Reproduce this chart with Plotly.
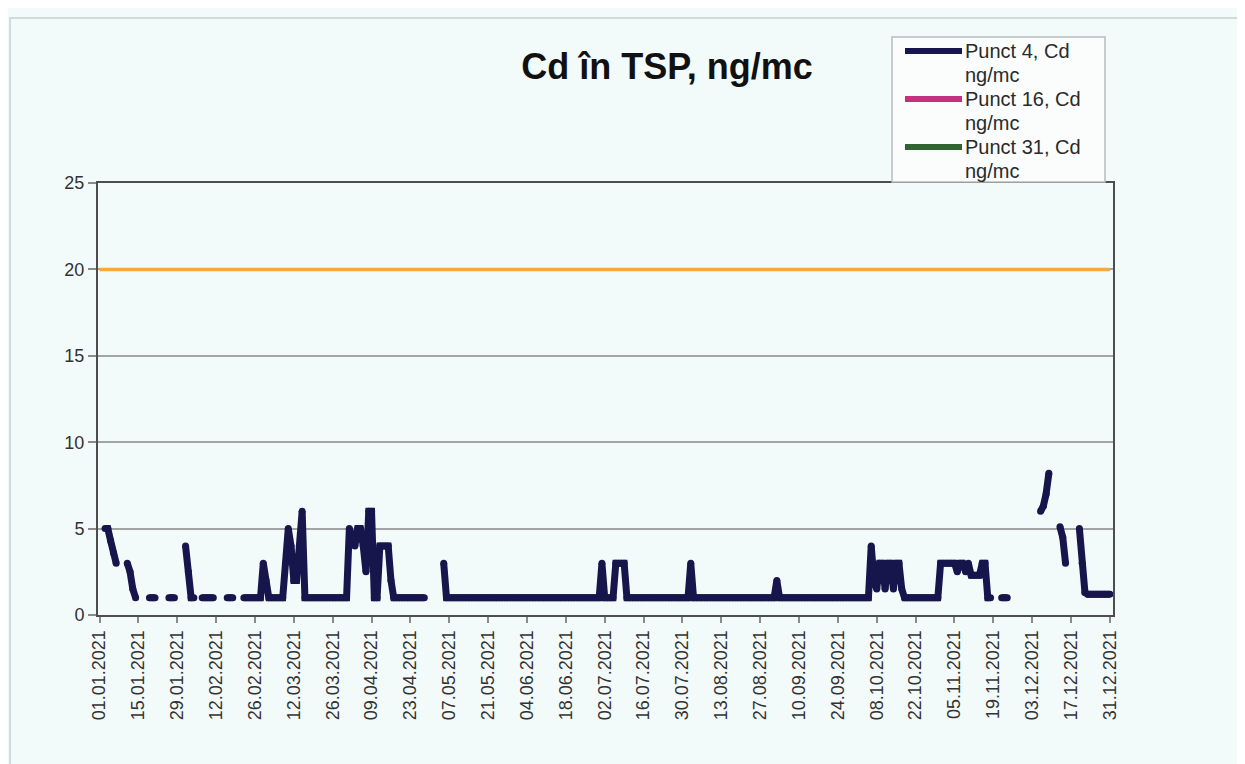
from datetime import datetime, timedelta
import plotly.graph_objects as go

# ---------------- data ----------------
TITLE = "Cd în TSP, ng/mc"

tick_labels = ["01.01.2021", "15.01.2021", "29.01.2021", "12.02.2021", "26.02.2021",
               "12.03.2021", "26.03.2021", "09.04.2021", "23.04.2021", "07.05.2021",
               "21.05.2021", "04.06.2021", "18.06.2021", "02.07.2021", "16.07.2021",
               "30.07.2021", "13.08.2021", "27.08.2021", "10.09.2021", "24.09.2021",
               "08.10.2021", "22.10.2021", "05.11.2021", "19.11.2021", "03.12.2021",
               "17.12.2021", "31.12.2021"]

series_names = ["Punct 4, Cd ng/mc", "Punct 16, Cd ng/mc", "Punct 31, Cd ng/mc"]

# Punct 4: measured runs (start date, daily values); days not listed are missing
p4_seg_01 = ("03.01.2021", [5, 5, 4.3, 3.6, 3])
p4_seg_02 = ("11.01.2021", [3, 2.5, 1.5, 1])
p4_seg_03 = ("19.01.2021", [1, 1, 1])
p4_seg_04 = ("26.01.2021", [1, 1, 1])
p4_seg_05 = ("01.02.2021", [4, 2.5, 1, 1])
p4_seg_06 = ("07.02.2021", [1, 1, 1, 1, 1])
p4_seg_07 = ("16.02.2021", [1, 1, 1])
p4_seg_08 = ("22.02.2021", [1, 1, 1, 1, 1, 1, 1, 3, 2, 1, 1, 1, 1, 1,
                            1, 3, 5, 4, 2, 2, 4, 6, 1,
                            1, 1, 1, 1, 1, 1, 1, 1, 1, 1, 1, 1, 1, 1,
                            1, 5, 4.5, 4, 5, 5, 4, 2.5, 6, 6, 1, 1, 4, 4, 4, 4, 2, 1,
                            1, 1, 1, 1, 1, 1, 1, 1, 1, 1, 1])
p4_seg_09 = ("05.05.2021", [3, 1,
                            1, 1, 1, 1, 1, 1, 1, 1, 1, 1, 1, 1, 1, 1, 1, 1, 1, 1,
                            1, 1, 1, 1, 1, 1, 1, 1, 1, 1, 1, 1, 1, 1, 1, 1, 1, 1,
                            1, 1, 1, 1, 1, 1, 1, 1, 1, 1, 1, 1, 1, 1, 1, 1, 1, 1,
                            1, 3, 1, 1, 1, 1, 3, 3, 3, 3, 1,
                            1, 1, 1, 1, 1, 1, 1, 1, 1, 1, 1, 1, 1, 1, 1, 1, 1, 1,
                            1, 1, 1, 1,
                            3,
                            1, 1, 1, 1, 1, 1, 1, 1, 1, 1, 1, 1, 1, 1, 1,
                            1, 1, 1, 1, 1, 1, 1, 1, 1, 1, 1, 1, 1, 1, 1,
                            2,
                            1, 1, 1, 1, 1, 1, 1, 1, 1, 1, 1, 1, 1, 1, 1, 1, 1,
                            1, 1, 1, 1, 1, 1, 1, 1, 1, 1, 1, 1, 1, 1, 1, 1,
                            4, 2, 1.5, 3, 3, 1.5, 3, 3, 1.5, 3, 3, 1.5, 1,
                            1, 1, 1, 1, 1, 1, 1, 1, 1, 1, 1, 1,
                            3, 3, 3, 3, 3, 3, 2.5, 3, 3, 2.5, 3, 2.3, 2.3, 2.3, 2.3,
                            3, 3, 1, 1])
p4_seg_10 = ("22.11.2021", [1, 1, 1])
p4_seg_11 = ("06.12.2021", [6, 6.3, 7, 8.2])
p4_seg_12 = ("13.12.2021", [5.1, 4.5, 3])
p4_seg_13 = ("20.12.2021", [5, 3, 1.3, 1.2, 1.2, 1.2, 1.2, 1.2, 1.2, 1.2, 1.2, 1.2])

p4_segments = [p4_seg_01, p4_seg_02, p4_seg_03, p4_seg_04, p4_seg_05, p4_seg_06,
               p4_seg_07, p4_seg_08, p4_seg_09, p4_seg_10, p4_seg_11, p4_seg_12,
               p4_seg_13]

# Punct 16 and Punct 31: no values drawn in the chart
p16_values = []
p31_values = []

# limit value line
limit_dates = ["01.01.2021", "31.12.2021"]
limit_values = [20, 20]

# ---------------- build ----------------
def d(s):
    return datetime.strptime(s, "%d.%m.%Y")

year_start = d("01.01.2021")
all_days = [year_start + timedelta(days=i) for i in range(365)]
p4_values = [None] * 365
for start, vals in p4_segments:
    i0 = (d(start) - year_start).days
    for k, v in enumerate(vals):
        p4_values[i0 + k] = v

FONT = "Liberation Sans, Arial, sans-serif"
BG = "#f3fafa"
LINE_W = 7
NAVY = "#16164c"

fig = go.Figure()
fig.add_trace(go.Scatter(x=all_days, y=p4_values, mode="lines+markers", name=series_names[0],
                         line=dict(color=NAVY, width=LINE_W), connectgaps=False,
                         marker=dict(color=NAVY, size=LINE_W, line=dict(width=0)),
                         showlegend=False))
fig.add_trace(go.Scatter(x=all_days[:len(p16_values)], y=p16_values, mode="lines",
                         name=series_names[1], line=dict(color="#c4317f", width=LINE_W),
                         showlegend=False))
fig.add_trace(go.Scatter(x=all_days[:len(p31_values)], y=p31_values, mode="lines",
                         name=series_names[2], line=dict(color="#2f632f", width=LINE_W),
                         showlegend=False))
fig.add_trace(go.Scatter(x=[d(s) for s in limit_dates], y=limit_values, mode="lines",
                         name="Valoare limită", line=dict(color="#f3ab3e", width=3.5),
                         showlegend=False))

# geometry (page pixels; the page body has an 8px margin)
OFF = 8
W, H = 1245, 764
PL, PR, PT, PB = 98, 1113, 183, 615          # plot area on the page
L, T = PL - OFF, PT - OFF
R, B = OFF + W - PR, OFF + H - PB
PW, PH = PR - PL, PB - PT
px = lambda x: (x - PL) / PW
py = lambda y: (PB - y) / PH

shapes = []
annotations = []
# outer chart frame
shapes.append(dict(type="rect", xref="paper", yref="paper", x0=px(10), x1=px(1260),
                   y0=py(780), y1=py(18), line=dict(color="#d3dada", width=2),
                   fillcolor="rgba(0,0,0,0)", layer="below"))
# legend box
shapes.append(dict(type="rect", xref="paper", yref="paper", x0=px(892), x1=px(1105),
                   y0=py(182), y1=py(37), line=dict(color="#b9bcbc", width=1.5),
                   fillcolor="#fbfdfd"))
leg_colors = [NAVY, "#c4317f", "#2f632f"]
leg_y = [51, 99, 147]
for name, col, yy in zip(series_names, leg_colors, leg_y):
    shapes.append(dict(type="line", xref="paper", yref="paper", x0=px(905), x1=px(962),
                       y0=py(yy), y1=py(yy), line=dict(color=col, width=6)))
    first, second = name.rsplit(" ", 1)
    for txt, ty in ((first, yy), (second, yy + 24)):
        annotations.append(dict(xref="paper", yref="paper", x=px(963), y=py(ty),
                                xanchor="left", yanchor="middle", showarrow=False,
                                align="left", text=txt,
                                font=dict(family=FONT, size=20, color="#2a2a2a")))

fig.update_layout(
    width=W, height=H,
    margin=dict(l=L, r=R, t=T, b=B),
    paper_bgcolor=BG, plot_bgcolor=BG,
    font=dict(family=FONT, color="#333333"),
    title=dict(text="<b>" + TITLE + "</b>", x=px(667), xref="paper", xanchor="center",
               y=1 - (66 - OFF) / H, yref="container", yanchor="middle",
               font=dict(family=FONT, size=36, color="#111111")),
    shapes=shapes, annotations=annotations,
    showlegend=False,
)
fig.update_xaxes(
    type="date",
    range=[datetime(2020, 12, 31, 11, 0), datetime(2022, 1, 1, 2, 30)],
    tickvals=[d(s) for s in tick_labels], ticktext=tick_labels,
    tickangle=-90, tickfont=dict(family=FONT, size=18, color="#333333"),
    ticks="outside", ticklen=6, tickcolor="#8a8a8a", tickwidth=1.5,
    showgrid=False, zeroline=False,
    showline=True, linecolor="#4d4d4d", linewidth=2, mirror=True,
)
fig.update_yaxes(
    range=[0, 25], tickvals=[0, 5, 10, 15, 20, 25],
    tickfont=dict(family=FONT, size=18, color="#333333"),
    ticks="outside", ticklen=8, tickcolor="#8a8a8a", tickwidth=1.5,
    showgrid=True, gridcolor="#a3a3a3", gridwidth=1.5, zeroline=False,
    showline=True, linecolor="#4d4d4d", linewidth=2, mirror=True,
)

fig.write_html("out.html")
